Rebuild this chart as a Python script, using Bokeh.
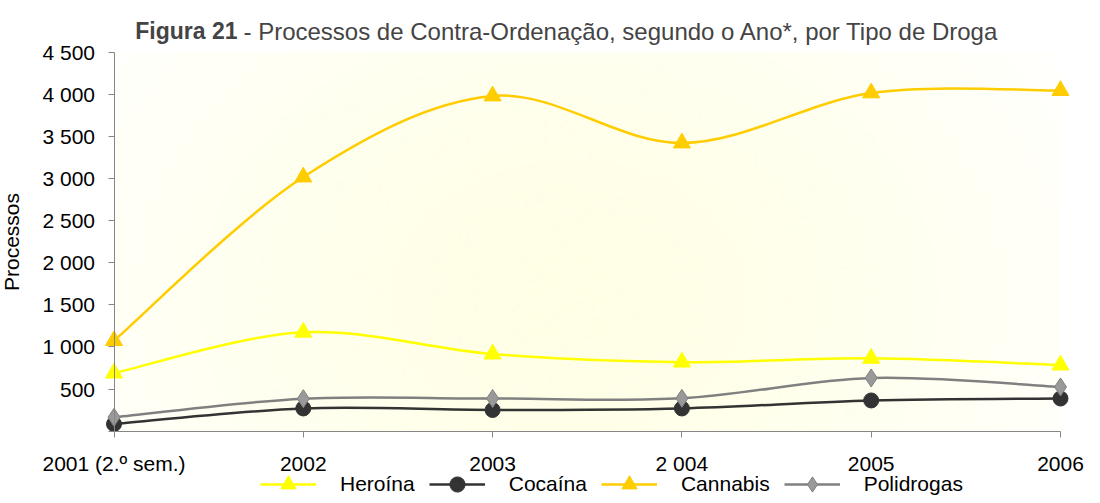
import numpy as np
from bokeh.plotting import figure
from bokeh.models import (Range1d, FixedTicker, Legend, LegendItem, Label,
                          ColumnDataSource)
from bokeh.embed import file_html
from bokeh.resources import INLINE

# ---- data ----
categories = ["2001 (2.º sem.)", "2002", "2003", "2 004", "2005", "2006"]
heroina = [690, 1175, 916, 820, 865, 785]
cocaina = [85, 270, 252, 270, 365, 388]
cannabis = [1075, 3018, 3980, 3422, 4016, 4045]
polidrogas = [165, 386, 388, 390, 632, 525]
y_ticks = [0, 500, 1000, 1500, 2000, 2500, 3000, 3500, 4000, 4500]
Y_MAX = 4500

FONT = "Liberation Sans"
xs = list(range(len(categories)))
NX = len(categories) - 1

# The frame covers the whole canvas: title strip on top, y labels on the left,
# value area, then x labels and legend at the bottom.
p = figure(width=1084, height=495, output_backend="svg", toolbar_location=None,
           x_range=Range1d(-0.5996, 5.1268), y_range=Range1d(-763.5, 5113.9),
           min_border_left=0, min_border_right=0, min_border_top=0,
           min_border_bottom=0)
p.outline_line_color = None
p.grid.visible = False
p.background_fill_color = "white"
p.border_fill_color = "white"

# ---- background gradient (value area only) ----
H, W = 120, 240
gy, gx = np.mgrid[0:H, 0:W]
nx = gx / (W - 1)
ny = gy / (H - 1)
t = np.clip(np.sqrt(((nx - 0.48) / 0.62) ** 2 + ((ny - 0.35) / 1.2) ** 2), 0, 1) ** 1.5
c0 = np.array([255, 255, 230])
c1 = np.array([255, 255, 254])
img = np.zeros((H, W), dtype=np.uint32)
view = img.view(dtype=np.uint8).reshape((H, W, 4))
for k in range(3):
    view[:, :, k] = (c0[k] * (1 - t) + c1[k] * t).astype(np.uint8)
view[:, :, 3] = 255
p.image_rgba(image=[img], x=0, y=0, dw=NX, dh=Y_MAX)

# ---- axes ----
AX = "#868686"
for ax in (p.xaxis[0], p.yaxis[0]):
    ax.axis_line_color = AX
    ax.major_tick_line_color = AX
    ax.minor_tick_line_color = None
    ax.major_tick_in = 0
    ax.major_tick_out = 6
    ax.major_label_text_font = FONT
    ax.major_label_text_font_size = "21px"
    ax.major_label_text_color = "black"

p.xaxis.fixed_location = 0
p.xaxis.bounds = (0, NX)
p.xaxis.ticker = FixedTicker(ticks=xs)
p.xaxis.major_label_overrides = {i: c for i, c in enumerate(categories)}
p.xaxis.major_label_standoff = 15

p.yaxis.fixed_location = 0
p.yaxis.bounds = (0, Y_MAX)
p.yaxis.ticker = FixedTicker(ticks=y_ticks)
p.yaxis.major_label_overrides = {v: ("" if v == 0 else f"{v:,}".replace(",", " ")) for v in y_ticks}
p.yaxis.major_label_standoff = 13
p.yaxis.axis_label = "Processos"
p.yaxis.axis_label_text_font = FONT
p.yaxis.axis_label_text_font_size = "21px"
p.yaxis.axis_label_text_font_style = "normal"
p.yaxis.axis_label_text_color = "black"
p.yaxis.axis_label_standoff = 17


def smooth(xv, yv):
    n = len(xv)
    P = np.array([xv, yv], dtype=float).T
    out = {k: [] for k in ("x0", "y0", "x1", "y1", "cx0", "cy0", "cx1", "cy1")}
    for i in range(n - 1):
        pm = P[max(i - 1, 0)]
        pa = P[i]
        pb = P[i + 1]
        pn = P[min(i + 2, n - 1)]
        c_a = pa + (pb - pm) / 6.0
        c_b = pb - (pn - pa) / 6.0
        out["x0"].append(pa[0]); out["y0"].append(pa[1])
        out["x1"].append(pb[0]); out["y1"].append(pb[1])
        out["cx0"].append(c_a[0]); out["cy0"].append(c_a[1])
        out["cx1"].append(c_b[0]); out["cy1"].append(c_b[1])
    return out


series = [
    ("Heroína", heroina, "#FFFF00", "#FFFF00", "triangle", 17),
    ("Cocaína", cocaina, "#333333", "#333333", "circle", 15),
    ("Cannabis", cannabis, "#FFCC00", "#FFCC00", "triangle", 17),
    ("Polidrogas", polidrogas, "#808080", "#999999", "diamond", 18),
]

items = []
for name, vals, lc, fc, mk, sz in series:
    bz = p.bezier(source=ColumnDataSource(smooth(xs, vals)), x0="x0", y0="y0", x1="x1", y1="y1",
                  cx0="cx0", cy0="cy0", cx1="cx1", cy1="cy1", line_color=lc, line_width=2.5)
    sc = p.scatter(x=xs, y=vals, marker=mk, size=sz, fill_color=fc,
                   line_color=lc if mk != "diamond" else "#808080", line_width=1)
    items.append(LegendItem(label=name, renderers=[bz, sc]))

legend = Legend(items=items, orientation="horizontal", location=(260, -8),
                glyph_width=56, glyph_height=38, label_height=20, label_standoff=24,
                spacing=14, padding=0, margin=0, border_line_color=None,
                background_fill_alpha=0, label_text_font=FONT,
                label_text_font_size="21px", label_text_color="black")
p.add_layout(legend, "center")

# ---- chart title (bold lead-in + regular text), inside the top strip ----
TY = 4749
TX = 0.6524
p.add_layout(Label(x=TX, y=TY, text="Figura 21", text_font=FONT, text_font_size="23px",
                   text_font_style="bold", text_align="right", text_baseline="alphabetic"))
p.add_layout(Label(x=TX, y=TY, x_offset=6,
                   text="- Processos de Contra-Ordenação, segundo o Ano*, por Tipo de Droga",
                   text_font=FONT, text_font_size="24px", text_align="left",
                   text_baseline="alphabetic"))

open("out.html", "w").write(file_html(p, INLINE))
